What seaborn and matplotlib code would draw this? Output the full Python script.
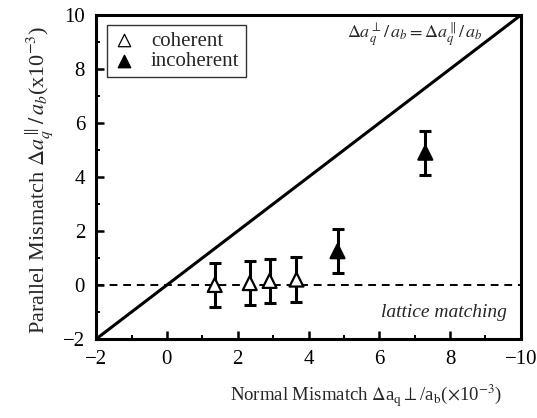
import matplotlib
matplotlib.use("Agg")
import matplotlib.pyplot as plt
import pandas as pd
import seaborn as sns

# data
normal_mismatch = [1.35, 2.34, 2.9, 3.66, 4.82, 7.3]
parallel_mismatch = [0.0, 0.07, 0.15, 0.2, 1.25, 4.9]
mismatch_err = [0.82, 0.82, 0.82, 0.82, 0.82, 0.82]
growth = ["coherent", "coherent", "coherent", "coherent", "incoherent", "incoherent"]
x_ticks = [-2, 0, 2, 4, 6, 8, 10]
x_tick_labels = ["\u22122", "0", "2", "4", "6", "8", "\u221210"]
y_ticks = [-2, 0, 2, 4, 6, 8, 10]
y_tick_labels = ["\u22122", "0", "2", "4", "6", "8", "10"]

df = pd.DataFrame({"x": normal_mismatch, "y": parallel_mismatch,
                   "err": mismatch_err, "growth": growth})

sns.set_theme(style="ticks")
plt.rcParams["font.family"] = ["Liberation Serif", "DejaVu Serif"]
plt.rcParams["mathtext.fontset"] = "stix"

fig = plt.figure(figsize=(5.37, 4.18), dpi=100)
ax = fig.add_axes([0.179, 0.189, 0.791, 0.775])

# y = x reference line and lattice matching line
ax.plot([-2, 10], [-2, 10], color="black", lw=2.2, zorder=2)
ax.plot([-2, 10], [0, 0], color="black", lw=1.4, ls=(0, (4, 3)), zorder=2)

ax.errorbar(df["x"], df["y"], yerr=df["err"], fmt="none", ecolor="black",
            elinewidth=2.2, capsize=4.5, capthick=2.2, zorder=3)

sns.scatterplot(data=df, x="x", y="y", style="growth", hue="growth",
                markers={"coherent": "^", "incoherent": "^"},
                palette={"coherent": "white", "incoherent": "black"},
                edgecolor="black", linewidth=1.6, s=100, ax=ax, zorder=4,
                legend=False)

# legend
h1 = ax.scatter([], [], marker="^", s=80, facecolor="white", edgecolor="black", linewidth=0.9)
h2 = ax.scatter([], [], marker="^", s=80, facecolor="black", edgecolor="black")
leg = ax.legend([h1, h2], ["coherent", "incoherent"], loc="upper left",
                bbox_to_anchor=(0.026, 0.97), borderaxespad=0, fontsize=15,
                frameon=True, fancybox=False, edgecolor="black",
                handletextpad=0.8, borderpad=0.3, labelspacing=0.05,
                handlelength=1.0)
leg.get_frame().set_linewidth(1.0)

ax.text(8.9, 9.3, r"$\Delta a_q^{\perp}/\,a_b = \Delta a_q^{\parallel}/\,a_b$",
        ha="right", va="center", fontsize=13)
ax.text(9.6, -1.0, "lattice matching", ha="right", va="center",
        fontsize=14, style="italic")

ax.set_xlim(-2, 10)
ax.set_ylim(-2, 10)
ax.set_xticks(x_ticks)
ax.set_xticklabels(x_tick_labels)
ax.set_yticks(y_ticks)
ax.set_yticklabels(y_tick_labels)
ax.set_xticks(range(-2, 11), minor=True)
ax.set_yticks(range(-2, 11), minor=True)
ax.tick_params(direction="in", which="major", length=6, width=1.8,
               labelsize=15, pad=8, color="black", labelcolor="black")
ax.tick_params(direction="in", which="minor", length=3, width=1.4, color="black")
for s in ax.spines.values():
    s.set_linewidth(2.2)
    s.set_color("black")

ax.set_xlabel(r"Normal Mismatch $\Delta$a$_{\mathrm{q}}\perp$/a$_{\mathrm{b}}$($\times$10$^{-3}$)",
              fontsize=13.5, labelpad=10)
ax.xaxis.label.set_x(0.635)
ax.set_ylabel(r"Parallel Mismatch $\Delta a_q^{\parallel}/\,a_b$(x10$^{-3}$)",
              fontsize=16, labelpad=6)
ax.yaxis.label.set_y(0.49)

fig.savefig("out.png", dpi=100)
